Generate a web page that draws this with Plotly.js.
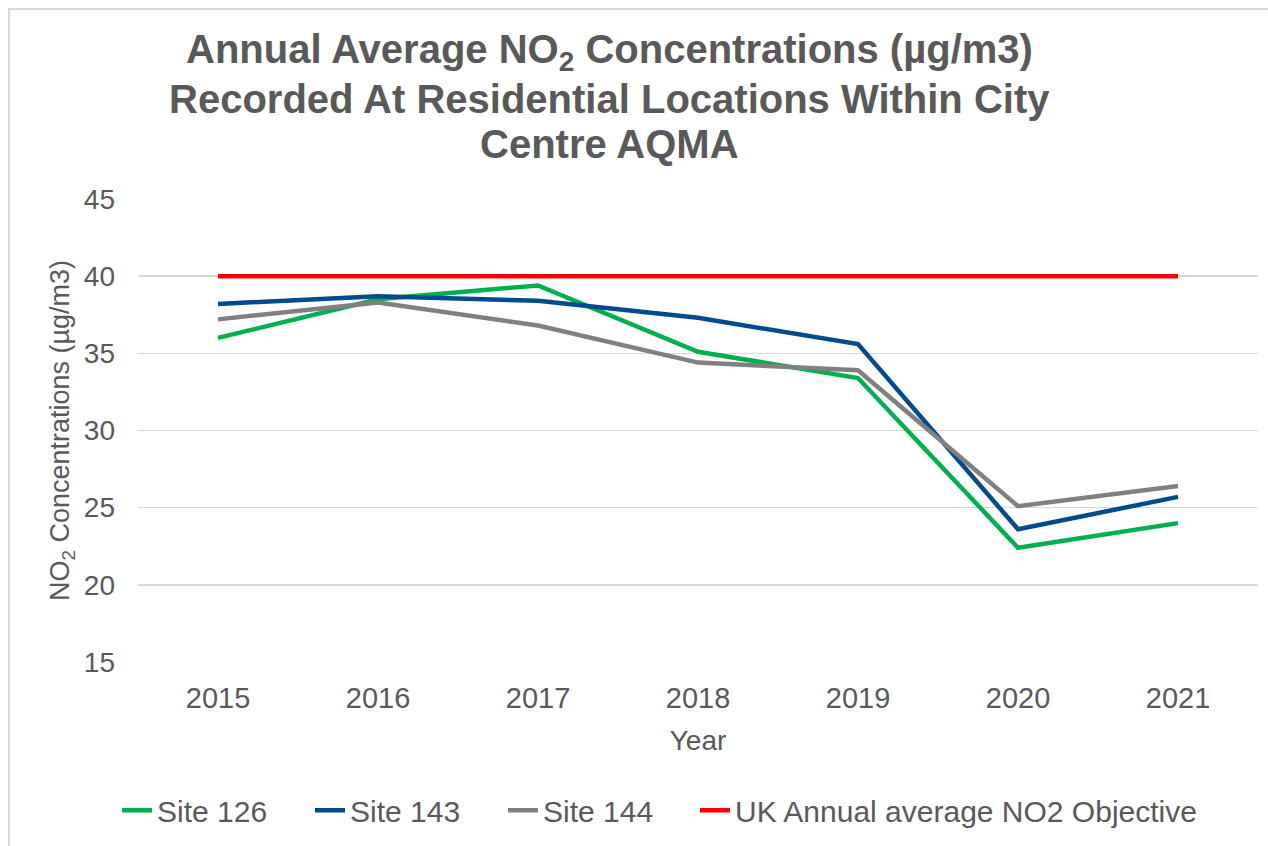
<!DOCTYPE html>
<html>
<head>
<meta charset="utf-8">
<script src="https://cdn.plot.ly/plotly-3.0.1.min.js"></script>
<style>
  html, body { margin: 0; padding: 0; overflow: hidden; background: #ffffff; }
  #frame {
    position: absolute; left: 8px; top: 8px;
    width: 1300px; height: 900px;
    border: 2px solid #d9d9d9;
    pointer-events: none;
  }
  #chart { position: absolute; left: 0; top: 0; width: 1268px; height: 846px; }
</style>
</head>
<body>
<div id="chart"></div>
<div id="frame"></div>
<script>
// Dados
const anos = ['2015', '2016', '2017', '2018', '2019', '2020', '2021'];

const site126 = [36.0, 38.5, 39.4, 35.1, 33.4, 22.4, 24.0];
const site143 = [38.2, 38.7, 38.4, 37.3, 35.6, 23.6, 25.7];
const site144 = [37.2, 38.3, 36.8, 34.4, 33.9, 25.1, 26.4];
const objetivoUK = [40, 40, 40, 40, 40, 40, 40];

const linhasTitulo = [
    'Annual Average NO<sub>2</sub> Concentrations (µg/m3)',
    'Recorded At Residential Locations Within City',
    'Centre AQMA'
];

const corTexto = '#595959';

function criarGrafico() {
    const linha = (y, nome, cor, legenda) => ({
        x: anos,
        y: y,
        name: nome,
        type: 'scatter',
        mode: 'lines',
        line: { color: cor, width: 4.5 },
        legend: legenda
    });

    const data = [
        linha(site126, 'Site 126', '#00b050', 'legend'),
        linha(site143, 'Site 143', '#004a8d', 'legend'),
        linha(site144, 'Site 144', '#808080', 'legend'),
        linha(objetivoUK, 'UK Annual average NO2 Objective', '#ff0000', 'legend2')
    ];

    // Título em três linhas (espaçamento igual ao original)
    const topoPlot = 199, alturaPlot = 465;
    const centrosTitulo = [51, 99, 144];
    const titulo = linhasTitulo.map((t, i) => ({
        text: '<b>' + t + '</b>',
        xref: 'paper',
        yref: 'paper',
        x: (609 - 138) / 1120,
        y: 1 + (topoPlot - centrosTitulo[i]) / alturaPlot,
        xanchor: 'center',
        yanchor: 'middle',
        showarrow: false,
        font: { size: 40, color: corTexto }
    }));

    const legendaBase = {
        orientation: 'h',
        xanchor: 'left',
        y: -0.32,
        yanchor: 'middle',
        font: { size: 30, color: corTexto },
        itemwidth: 30,
        bgcolor: 'rgba(0,0,0,0)'
    };

    const layout = {
        width: 1268,
        height: 846,
        paper_bgcolor: '#ffffff',
        plot_bgcolor: '#ffffff',
        font: { family: 'Liberation Sans, Arial, sans-serif', color: corTexto, size: 28 },
        margin: { l: 138, r: 10, t: 199, b: 182 },
        annotations: titulo,
        xaxis: {
            type: 'category',
            range: [-0.5, 6.5],
            showgrid: false,
            showline: false,
            zeroline: false,
            ticks: '',
            ticklabelstandoff: 16,
            tickfont: { size: 29, color: corTexto },
            title: { text: 'Year', font: { size: 28, color: corTexto }, standoff: 17 }
        },
        yaxis: {
            range: [15, 45],
            dtick: 5,
            tick0: 15,
            showgrid: true,
            gridcolor: '#d9d9d9',
            gridwidth: 1.5,
            zeroline: false,
            showline: false,
            ticks: '',
            ticklabelstandoff: 22,
            tickfont: { size: 28, color: corTexto },
            title: {
                text: 'NO<sub>2</sub> Concentrations (µg/m3)',
                font: { size: 27, color: corTexto },
                standoff: 6
            }
        },
        showlegend: true,
        legend: Object.assign({}, legendaBase, {
            x: (117 - 138) / 1120,
            entrywidth: 148
        }),
        legend2: Object.assign({}, legendaBase, {
            x: (695 - 138) / 1120
        })
    };

    Plotly.newPlot('chart', data, layout, { displayModeBar: false, staticPlot: true });
}

criarGrafico();
</script>
</body>
</html>
